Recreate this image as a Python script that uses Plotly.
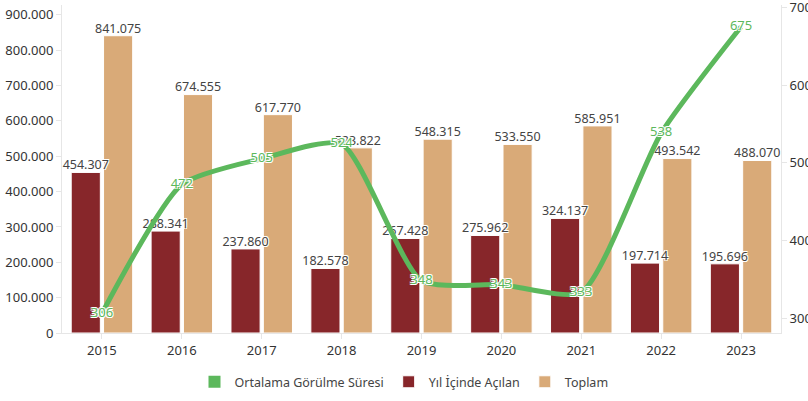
import plotly.graph_objects as go

years = ["2015", "2016", "2017", "2018", "2019", "2020", "2021", "2022", "2023"]
acilan = [454307, 288341, 237860, 182578, 267428, 275962, 324137, 197714, 195696]
toplam = [841075, 674555, 617770, 523822, 548315, 533550, 585951, 493542, 488070]
sure = [306, 472, 505, 524, 348, 343, 333, 538, 675]

RED = "#87262a"
TAN = "#d9aa78"
GREEN = "#5cb85c"
FONT = "Noto Sans"
WHITE_OUTLINE = "1px 1px 0 #fff, -1px -1px 0 #fff, 1px -1px 0 #fff, -1px 1px 0 #fff"

BARGAP = 0.19
idx = list(range(len(years)))
slot = (1 - BARGAP) / 2            # width of one bar slot inside a group
shift = slot / 2                    # centre offset of each bar from the category centre

fig = go.Figure()

# legend-only square for the line series
fig.add_trace(go.Scatter(x=[None], y=[None], mode="markers", name="Ortalama Görülme Süresi",
                         marker=dict(symbol="square", size=12, color=GREEN),
                         showlegend=True, legendrank=1))

for name, vals, col, rank in [("Yıl İçinde Açılan", acilan, RED, 2), ("Toplam", toplam, TAN, 3)]:
    fig.add_trace(go.Bar(x=idx, y=vals, name=name,
                         marker=dict(color=col, line=dict(color="white", width=1)),
                         hoverinfo="x+y", legendrank=rank))

fig.add_trace(go.Scatter(x=idx, y=sure, yaxis="y2", mode="lines+text",
                         name="Ortalama Görülme Süresi", showlegend=False,
                         line=dict(color=GREEN, width=5, shape="spline", smoothing=0.6),
                         text=[str(v) for v in sure], textposition="middle center",
                         cliponaxis=False,
                         textfont=dict(color=GREEN, size=13, family=FONT, shadow=WHITE_OUTLINE)))

# bar value labels drawn on top of everything
for vals, sgn in [(acilan, -1), (toplam, 1)]:
    fig.add_trace(go.Scatter(x=[i + sgn * shift for i in idx], y=vals, mode="text",
                             text=[f"{v:,}".replace(",", ".") for v in vals],
                             textposition="top center", cliponaxis=False,
                             showlegend=False, hoverinfo="skip",
                             textfont=dict(color="#444", size=12.5, family=FONT, shadow=WHITE_OUTLINE)))

fig.update_layout(
    width=808, height=401,
    margin=dict(l=62, r=27, t=5, b=68, autoexpand=False),
    paper_bgcolor="white", plot_bgcolor="white",
    separators=",.",
    font=dict(family=FONT, color="#333", size=13),
    barmode="group", bargap=BARGAP, bargroupgap=0.1,
    showlegend=True,
    legend=dict(orientation="h", xref="container", x=0.5, xanchor="center",
                yref="container", y=0.047, yanchor="middle",
                font=dict(size=12.5, color="#444", family=FONT),
                itemwidth=30, traceorder="normal"),
    xaxis=dict(range=[-0.5, len(years) - 0.5], tickvals=idx, ticktext=years,
               showgrid=False, zeroline=False, showline=True, linecolor="#e6e6e6",
               ticks="outside", ticklen=5, tickcolor="#e6e6e6", automargin=False,
               tickfont=dict(size=13, color="#333")),
    yaxis=dict(range=[0, 928000], showgrid=False, zeroline=False, showline=True,
               linecolor="#e6e6e6", ticks="outside", ticklen=5, tickcolor="#e6e6e6",
               tickvals=[0, 100000, 200000, 300000, 400000, 500000, 600000, 700000, 800000, 900000],
               tickformat=",", automargin=False, ticklabeloverflow="allow",
               tickfont=dict(size=13, color="#333")),
    yaxis2=dict(range=[280.7, 703], overlaying="y", side="right", showgrid=False,
                zeroline=False, showline=True, linecolor="#e6e6e6", ticks="outside",
                ticklen=5, tickcolor="#e6e6e6", tickvals=[300, 400, 500, 600, 700],
                automargin=False, ticklabeloverflow="allow",
                tickfont=dict(size=13, color="#333")),
)

fig.write_html("out.html", config={"displayModeBar": False},
               post_script="document.body.style.margin='0';")
